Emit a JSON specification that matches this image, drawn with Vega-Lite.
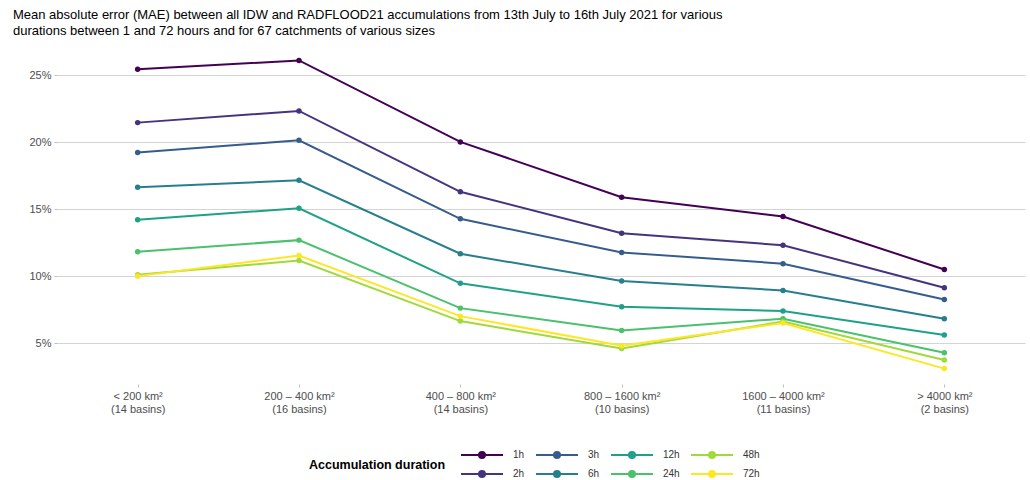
{
  "$schema": "https://vega.github.io/schema/vega-lite/v6.json",
  "width": 968,
  "height": 339,
  "autosize": "none",
  "padding": {"left": 57, "top": 45, "right": 5, "bottom": 96},
  "background": "white",
  "config": {
    "font": "Liberation Sans",
    "view": {"stroke": null},
    "axis": {"labelFont": "Liberation Sans", "labelColor": "#4d4d4d", "labelFontSize": 11}
  },
  "title": {
    "text": ["Mean absolute error (MAE) between all IDW and RADFLOOD21 accumulations from 13th July to 16th July 2021 for various", "durations between 1 and 72 hours and for 67 catchments of various sizes"],
    "anchor": "start",
    "dx": -16,
    "fontSize": 13,
    "fontWeight": "normal",
    "font": "Liberation Sans",
    "color": "#000000",
    "lineHeight": 16,
    "offset": 7
  },
  "data": {
    "values": [
      {"size": "< 200 km²\n(14 basins)", "dur": "1h", "mae": 25.45},
      {"size": "200 – 400 km²\n(16 basins)", "dur": "1h", "mae": 26.12},
      {"size": "400 – 800 km²\n(14 basins)", "dur": "1h", "mae": 20.03},
      {"size": "800 – 1600 km²\n(10 basins)", "dur": "1h", "mae": 15.90},
      {"size": "1600 – 4000 km²\n(11 basins)", "dur": "1h", "mae": 14.45},
      {"size": "> 4000 km²\n(2 basins)", "dur": "1h", "mae": 10.50},
      {"size": "< 200 km²\n(14 basins)", "dur": "2h", "mae": 21.47},
      {"size": "200 – 400 km²\n(16 basins)", "dur": "2h", "mae": 22.34},
      {"size": "400 – 800 km²\n(14 basins)", "dur": "2h", "mae": 16.30},
      {"size": "800 – 1600 km²\n(10 basins)", "dur": "2h", "mae": 13.21},
      {"size": "1600 – 4000 km²\n(11 basins)", "dur": "2h", "mae": 12.31},
      {"size": "> 4000 km²\n(2 basins)", "dur": "2h", "mae": 9.13},
      {"size": "< 200 km²\n(14 basins)", "dur": "3h", "mae": 19.23},
      {"size": "200 – 400 km²\n(16 basins)", "dur": "3h", "mae": 20.15},
      {"size": "400 – 800 km²\n(14 basins)", "dur": "3h", "mae": 14.28},
      {"size": "800 – 1600 km²\n(10 basins)", "dur": "3h", "mae": 11.77},
      {"size": "1600 – 4000 km²\n(11 basins)", "dur": "3h", "mae": 10.93},
      {"size": "> 4000 km²\n(2 basins)", "dur": "3h", "mae": 8.26},
      {"size": "< 200 km²\n(14 basins)", "dur": "6h", "mae": 16.64},
      {"size": "200 – 400 km²\n(16 basins)", "dur": "6h", "mae": 17.16},
      {"size": "400 – 800 km²\n(14 basins)", "dur": "6h", "mae": 11.67},
      {"size": "800 – 1600 km²\n(10 basins)", "dur": "6h", "mae": 9.63},
      {"size": "1600 – 4000 km²\n(11 basins)", "dur": "6h", "mae": 8.93},
      {"size": "> 4000 km²\n(2 basins)", "dur": "6h", "mae": 6.82},
      {"size": "< 200 km²\n(14 basins)", "dur": "12h", "mae": 14.21},
      {"size": "200 – 400 km²\n(16 basins)", "dur": "12h", "mae": 15.07},
      {"size": "400 – 800 km²\n(14 basins)", "dur": "12h", "mae": 9.46},
      {"size": "800 – 1600 km²\n(10 basins)", "dur": "12h", "mae": 7.72},
      {"size": "1600 – 4000 km²\n(11 basins)", "dur": "12h", "mae": 7.39},
      {"size": "> 4000 km²\n(2 basins)", "dur": "12h", "mae": 5.60},
      {"size": "< 200 km²\n(14 basins)", "dur": "24h", "mae": 11.82},
      {"size": "200 – 400 km²\n(16 basins)", "dur": "24h", "mae": 12.69},
      {"size": "400 – 800 km²\n(14 basins)", "dur": "24h", "mae": 7.61},
      {"size": "800 – 1600 km²\n(10 basins)", "dur": "24h", "mae": 5.93},
      {"size": "1600 – 4000 km²\n(11 basins)", "dur": "24h", "mae": 6.82},
      {"size": "> 4000 km²\n(2 basins)", "dur": "24h", "mae": 4.28},
      {"size": "< 200 km²\n(14 basins)", "dur": "48h", "mae": 10.10},
      {"size": "200 – 400 km²\n(16 basins)", "dur": "48h", "mae": 11.17},
      {"size": "400 – 800 km²\n(14 basins)", "dur": "48h", "mae": 6.64},
      {"size": "800 – 1600 km²\n(10 basins)", "dur": "48h", "mae": 4.60},
      {"size": "1600 – 4000 km²\n(11 basins)", "dur": "48h", "mae": 6.60},
      {"size": "> 4000 km²\n(2 basins)", "dur": "48h", "mae": 3.73},
      {"size": "< 200 km²\n(14 basins)", "dur": "72h", "mae": 10.00},
      {"size": "200 – 400 km²\n(16 basins)", "dur": "72h", "mae": 11.54},
      {"size": "400 – 800 km²\n(14 basins)", "dur": "72h", "mae": 7.01},
      {"size": "800 – 1600 km²\n(10 basins)", "dur": "72h", "mae": 4.80},
      {"size": "1600 – 4000 km²\n(11 basins)", "dur": "72h", "mae": 6.50},
      {"size": "> 4000 km²\n(2 basins)", "dur": "72h", "mae": 3.09}
    ]
  },
  "encoding": {
    "x": {
      "field": "size", "type": "nominal", "sort": null,
      "scale": {"type": "point", "padding": 0.5},
      "axis": {
        "title": null, "labelAngle": 0, "domain": false, "ticks": true, "tickSize": 3, "tickColor": "#bdbdbd",
        "grid": false, "labelPadding": 3, "labelLineHeight": 13,
        "labelExpr": "split(datum.value, '\\n')"
      }
    },
    "y": {
      "field": "mae", "type": "quantitative",
      "scale": {"domain": [1.94, 27.27], "nice": false, "zero": false},
      "axis": {
        "title": null, "values": [5, 10, 15, 20, 25], "labelExpr": "datum.value + '%'",
        "domain": false, "ticks": true, "tickSize": 3, "tickColor": "#bdbdbd",
        "grid": true, "gridColor": "#d4d4d4", "gridWidth": 1, "labelPadding": 3
      }
    },
    "color": {
      "field": "dur", "type": "nominal",
      "scale": {
        "domain": ["1h", "3h", "12h", "48h", "2h", "6h", "24h", "72h"],
        "range": ["#440154", "#365C8D", "#1FA187", "#9FDA3A", "#46337E", "#277F8E", "#4AC16D", "#FDE725"]
      },
      "legend": {
        "title": "Accumulation duration",
        "orient": "none",
        "legendX": 252,
        "legendY": 403,
        "direction": "horizontal",
        "columns": 4,
        "titleOrient": "left",
        "titleAnchor": "middle",
        "titleFontSize": 12.5,
        "titleFontWeight": "bold",
        "titleColor": "#000000",
        "titleBaseline": "middle",
        "titlePadding": 14,
        "labelFontSize": 10,
        "labelColor": "#333333",
        "symbolType": "M-3.5,0L3.5,0M0.5,0A0.5,0.5,0,1,1,-0.5,0A0.5,0.5,0,1,1,0.5,0",
        "symbolSize": 144,
        "symbolOffset": 15,
        "symbolStrokeWidth": 2,
        "labelOffset": 24,
        "columnPadding": 7,
        "rowPadding": 5,
        "encode": {
          "symbols": {"update": {"fill": {"scale": "color", "field": "value"}, "fillOpacity": {"value": 1}}}
        }
      }
    }
  },
  "layer": [
    {"mark": {"type": "line", "strokeWidth": 2}},
    {"mark": {"type": "point", "filled": true, "opacity": 1, "size": 30}}
  ]
}
